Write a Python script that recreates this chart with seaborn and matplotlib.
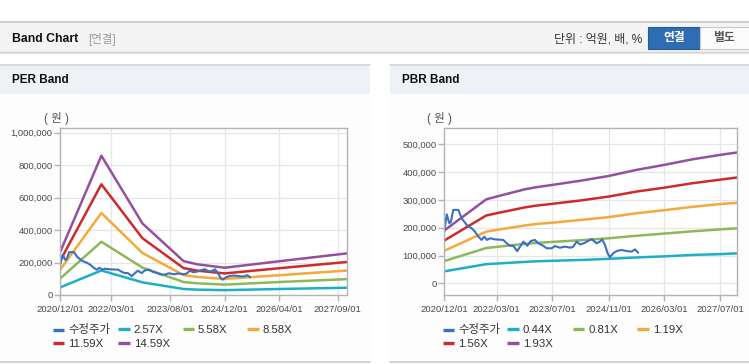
import numpy as np
import pandas as pd
import matplotlib
matplotlib.use('Agg')
import matplotlib.pyplot as plt
from matplotlib.lines import Line2D
from matplotlib.patches import Rectangle
from matplotlib.ticker import FuncFormatter
import seaborn as sns

# ---------------- data ----------------
price_label = '수정주가'
price_dates = ['2020-12-01', '2020-12-22', '2021-01-14', '2021-01-28', '2021-02-17', '2021-04-02',
               '2021-05-01', '2021-06-14', '2021-07-27', '2021-08-25', '2021-09-23', '2021-10-22',
               '2021-11-14', '2021-12-08', '2022-01-03', '2022-02-15', '2022-04-29', '2022-05-28',
               '2022-06-26', '2022-07-24', '2022-08-28', '2022-09-27', '2022-10-20', '2022-11-24',
               '2022-12-23', '2023-01-29', '2023-02-27', '2023-04-12', '2023-05-11', '2023-06-24',
               '2023-07-22', '2023-09-04', '2023-10-17', '2023-12-06', '2023-12-29', '2024-01-27',
               '2024-02-25', '2024-03-31', '2024-05-04', '2024-06-06', '2024-07-19', '2024-08-17',
               '2024-09-06', '2024-09-30', '2024-10-23', '2024-11-12', '2024-12-11', '2025-01-09',
               '2025-02-22', '2025-04-06', '2025-05-20', '2025-06-18', '2025-07-16']
price_values = [186000, 248000, 216000, 222000, 264000, 264000, 234000, 210000, 198000, 186000,
                168000, 156000, 168000, 156000, 162000, 158000, 156000, 144000, 135000, 135000,
                116000, 135000, 150000, 135000, 152000, 156000, 144000, 135000, 126000, 126000,
                134000, 128000, 132000, 128000, 132000, 150000, 140000, 144000, 152000, 159000,
                144000, 150000, 158000, 138000, 108000, 94000, 108000, 116000, 120000, 116000,
                114000, 122000, 110000]

per_dates = ['2020-12-01', '2021-12-01', '2022-12-01', '2023-12-01', '2024-04-01',
             '2024-12-01', '2026-04-01', '2027-12-01']
per_labels = ['2.57X', '5.58X', '8.58X', '11.59X', '14.59X']
per_2_57 = [47000, 151000, 78000, 37000, 33000, 30000, 37000, 45000]
per_5_58 = [102000, 328000, 169000, 80000, 72000, 64000, 80000, 98000]
per_8_58 = [157000, 505000, 259000, 123000, 111000, 99000, 122000, 151000]
per_11_59 = [212000, 682000, 350000, 166000, 150000, 133000, 165000, 204000]
per_14_59 = [267000, 858000, 441000, 209000, 189000, 168000, 208000, 257000]

pbr_dates = ['2020-12-01', '2021-12-01', '2022-03-01', '2022-11-01', '2023-02-01', '2023-07-01',
             '2024-03-01', '2024-11-01', '2025-07-01', '2026-03-01', '2026-11-01', '2027-07-01',
             '2027-12-01']
pbr_labels = ['0.44X', '0.81X', '1.19X', '1.56X', '1.93X']
pbr_0_44 = [43000, 69000, 71000, 77000, 79000, 81000, 84000, 88000, 93000, 97000, 102000, 105000, 108000]
pbr_0_81 = [80000, 127000, 131000, 142000, 145000, 149000, 155000, 162000, 171000, 179000, 187000, 194000, 198000]
pbr_1_19 = [117000, 186000, 192000, 208000, 213000, 218000, 228000, 238000, 252000, 263000, 275000, 285000, 290000]
pbr_1_56 = [154000, 244000, 252000, 273000, 279000, 286000, 298000, 312000, 330000, 344000, 360000, 373000, 381000]
pbr_1_93 = [190000, 302000, 312000, 338000, 345000, 354000, 369000, 386000, 408000, 426000, 446000, 462000, 471000]

per_xticks = ['2020/12/01', '2022/03/01', '2023/08/01', '2024/12/01', '2026/04/01', '2027/09/01']
pbr_xticks = ['2020/12/01', '2022/03/01', '2023/07/01', '2024/11/01', '2026/03/01', '2027/07/01']
per_yticks = [0, 200000, 400000, 600000, 800000, 1000000]
pbr_yticks = [0, 100000, 200000, 300000, 400000, 500000]

series_colors = ['#3a70c0', '#1eaec8', '#8db85a', '#f5a83b', '#cd2b2b', '#93509e']

# ---------------- style ----------------
sns.set_style('white')
plt.rcParams['font.family'] = ['Liberation Sans', 'Noto Sans CJK KR']
plt.rcParams['axes.unicode_minus'] = False

W, H = 749, 364
fig = plt.figure(figsize=(W / 100, H / 100), dpi=100, facecolor='white')


def fx(x):
    return x / W


def fy(y):
    return 1 - y / H


def rect(x0, y0, x1, y1, **kw):
    fig.add_artist(Rectangle((fx(x0), fy(y1)), (x1 - x0) / W, (y1 - y0) / H,
                             transform=fig.transFigure, zorder=-5, **kw))


def hline(x0, x1, y, color, lw=1.0):
    fig.add_artist(Line2D([fx(x0), fx(x1)], [fy(y), fy(y)], transform=fig.transFigure,
                          color=color, lw=lw, zorder=-4))


# header bar
rect(0, 22, W, 52, facecolor='#f4f4f4', edgecolor='none')
hline(0, W, 22, '#c4c4c4', 1.2)
hline(0, W, 52.3, '#cfcfcf', 1.0)
hline(0, W, 53.3, '#e6e6e6', 1.0)
fig.text(fx(12), fy(39), 'Band Chart', fontsize=8.8, fontweight='bold', color='#111111', va='center')
fig.text(fx(88), fy(39), '[연결]', fontsize=8.3, color='#9a9a9a', va='center')
fig.text(fx(642), fy(39.5), '단위 : 억원, 배, %', fontsize=8.6, color='#333333', va='center', ha='right')
rect(648, 27, 700, 49, facecolor='#2e6db3', edgecolor='#245c9a', linewidth=0.8)
fig.text(fx(674), fy(38.5), '연결', fontsize=8.5, fontweight='bold', color='white', va='center', ha='center')
rect(700, 27, 752, 49, facecolor='#fbfbfb', edgecolor='#c8c8c8', linewidth=0.8)
fig.text(fx(724), fy(38.5), '별도', fontsize=8.5, fontweight='bold', color='#555555', va='center', ha='center')

# panels
for px0, px1, title in [(0, 370, 'PER Band'), (390, W + 2, 'PBR Band')]:
    rect(px0, 65, px1, 94, facecolor='#eef1f6', edgecolor='none')
    hline(px0, px1, 64.8, '#d6d6d6', 1.2)
    rect(px0, 94, px1, 362, facecolor='#fdfdfd', edgecolor='none')
    hline(px0, px1, 362.3, '#cccccc', 1.2)
    fig.text(fx(px0 + 12), fy(80), title, fontsize=8.5, fontweight='bold', color='#111111', va='center')


def make_df(dates, bands, labels):
    frames = []
    for vals, lab in zip(bands, labels):
        frames.append(pd.DataFrame({'date': pd.to_datetime(dates), 'value': vals, 'series': lab}))
    return pd.concat(frames, ignore_index=True)


price_df = pd.DataFrame({'date': pd.to_datetime(price_dates), 'value': price_values, 'series': price_label})

charts = [
    dict(left=60.3, right=347.3, df=make_df(per_dates, [per_2_57, per_5_58, per_8_58, per_11_59, per_14_59], per_labels),
         labels=per_labels, xticks=per_xticks, yticks=per_yticks, ylim=(0, 1027000),
         unit_x=56, legend_x=[52.7, 118.3, 182.7, 247.3]),
    dict(left=444.3, right=737.3, df=make_df(pbr_dates, [pbr_0_44, pbr_0_81, pbr_1_19, pbr_1_56, pbr_1_93], pbr_labels),
         labels=pbr_labels, xticks=pbr_xticks, yticks=pbr_yticks, ylim=(-42000, 557500),
         unit_x=439, legend_x=[442.7, 507.3, 572.7, 637.3]),
]

top, bottom = 128.3, 295.0
xmin, xmax = pd.Timestamp('2020-12-01'), pd.Timestamp('2027-11-26')

for ch in charts:
    ax = fig.add_axes([fx(ch['left']), fy(bottom), (ch['right'] - ch['left']) / W, (bottom - top) / H])
    ax.set_facecolor('white')
    labels = ch['labels']
    pal = dict(zip([price_label] + labels, series_colors))
    sns.lineplot(data=ch['df'], x='date', y='value', hue='series', hue_order=labels, palette=pal,
                 linewidth=1.8, legend=False, ax=ax, estimator=None, sort=False)
    sns.lineplot(data=price_df, x='date', y='value', color=pal[price_label], linewidth=1.5,
                 legend=False, ax=ax, estimator=None, sort=False)
    ax.set_xlim(xmin, xmax)
    ax.set_ylim(*ch['ylim'])
    ax.set_xticks(pd.to_datetime(ch['xticks'], format='%Y/%m/%d'))
    ax.set_xticklabels(ch['xticks'])
    ax.set_yticks(ch['yticks'])
    ax.yaxis.set_major_formatter(FuncFormatter(lambda v, p: f'{int(v):,}'))
    ax.set_xlabel('')
    ax.set_ylabel('')
    ax.grid(True, color='#e6e6e6', linewidth=0.9)
    ax.set_axisbelow(True)
    for s in ax.spines.values():
        s.set_color('#b4b4b4')
        s.set_linewidth(1.0)
        s.set_visible(True)
    ax.tick_params(axis='x', which='major', length=4.5, width=1, color='#b4b4b4', labelsize=6.8,
                   labelcolor='#4a4a4a', pad=3, bottom=True)
    ax.tick_params(axis='y', which='major', length=4, width=1, color='#b4b4b4', labelsize=6.8,
                   labelcolor='#4a4a4a', pad=1.5, left=True)
    fig.text(fx(ch['unit_x']), fy(118.3), '( 원 )', fontsize=8.3, color='#555555', ha='center', va='center')

    # legend entries, row-major
    names = [price_label] + labels
    for i, name in enumerate(names):
        r, c = divmod(i, 4)
        handle = Line2D([], [], color=pal[name], linewidth=2.4, solid_capstyle='butt')
        fig.legend([handle], [name], loc='center left',
                   bbox_to_anchor=(fx(ch['legend_x'][c]), fy([330.0, 344.3][r])),
                   frameon=False, fontsize=8.2, handlelength=1.0, handletextpad=0.35,
                   borderpad=0, borderaxespad=0, labelcolor='#333333')

fig.savefig('out.png', dpi=100, facecolor='white')
